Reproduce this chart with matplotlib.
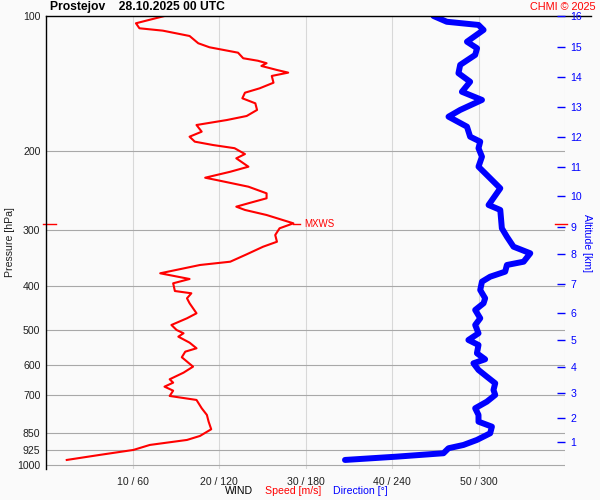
import matplotlib
matplotlib.use('Agg')
import matplotlib.pyplot as plt
from matplotlib.ticker import NullLocator, FixedLocator, FixedFormatter

plt.rcParams['font.family'] = ['Liberation Sans', 'DejaVu Sans']

# wind speed profile [hPa, m/s]
speed_p = [100.0, 103.8, 106.5, 107.8, 110.8, 115.0, 117.4, 120.7, 124.2, 125.8,
           127.4, 129.2, 131.9, 133.7, 136.0, 140.8, 144.9, 148.2, 152.5, 156.5,
           161.9, 167.0, 170.5, 174.9, 181.0, 185.7, 190.5, 193.8, 197.0, 203.0,
           207.5, 216.6, 222.3, 229.2, 231.9, 240.0, 248.3, 254.7, 261.3, 265.9,
           270.4, 277.5, 289.6, 297.1, 307.5, 318.3, 326.5, 339.5, 352.6, 358.6,
           374.2, 385.3, 393.9, 409.8, 414.6, 425.4, 436.4, 459.4, 471.3, 487.8,
           500.5, 509.0, 517.9, 534.1, 549.7, 559.3, 575.6, 604.0, 622.9, 644.4,
           655.7, 669.3, 683.2, 702.0, 716.5, 747.7, 773.8, 800.9, 832.7, 861.8,
           879.6, 902.5, 925.9, 949.9, 974.7]
speed = [13.7, 10.4, 10.8, 13.5, 16.6, 17.6, 18.9, 22.2, 22.8, 24.5,
         25.5, 24.9, 26.7, 28.0, 26.1, 26.3, 24.7, 23.0, 22.7, 24.2,
         24.4, 23.2, 20.9, 17.4, 18.0, 16.6, 17.2, 19.3, 21.8, 23.0,
         22.0, 23.4, 21.3, 18.4, 19.7, 23.4, 25.5, 25.5, 23.4, 22.0,
         23.0, 25.5, 28.6, 27.0, 26.5, 26.7, 25.1, 23.2, 21.3, 17.8,
         13.2, 16.6, 14.7, 14.9, 16.8, 16.3, 16.6, 17.4, 16.3, 14.5,
         15.1, 15.9, 15.3, 16.6, 17.4, 16.1, 15.7, 17.0, 15.9, 14.3,
         14.7, 13.7, 14.7, 14.3, 17.4, 18.0, 18.6, 18.8, 19.1, 17.8,
         16.3, 12.0, 10.1, 6.2, 2.4]

# wind direction profile [hPa, deg]
dir_p = [100.0, 103.0, 104.7, 107.4, 114.1, 118.0, 122.1, 128.5, 134.1, 140.1,
         147.5, 153.8, 161.9, 167.6, 176.4, 185.7, 190.5, 197.0, 205.8, 216.6,
         226.0, 242.0, 263.6, 270.4, 297.1, 310.2, 326.5, 337.7, 352.6, 358.6,
         371.1, 380.8, 390.6, 407.7, 425.4, 436.4, 451.6, 471.3, 487.8, 509.0,
         526.8, 540.5, 564.0, 581.6, 593.7, 614.4, 635.9, 657.8, 680.8, 698.4,
         722.8, 747.7, 773.8, 800.9, 821.7, 850.1, 879.6, 902.5, 917.9, 941.7,
         958.3, 974.7]
direction = [268.8, 278, 300, 303.5, 292, 299, 297.7, 287.3, 286.1, 294.2,
             288.5, 302.4, 287.3, 279.2, 292, 294.2, 301.2, 300, 302.4, 300,
             305.8, 315.1, 307, 315.1, 316.2, 319.7, 324.3, 335.9, 331.3, 319.7,
             318.5, 308.1, 302.4, 301.2, 304.6, 303.5, 297.7, 301.2, 297.7, 300,
             293, 300, 298.9, 304.6, 296.5, 300, 305.8, 311.6, 310.4, 311.6,
             305.8, 297.7, 300, 300, 309.3, 308.1, 298.9, 289.6, 279.2, 275.7,
             243.3, 207.4]

p_levels = [100, 200, 300, 400, 500, 600, 700, 850, 925, 1000]
speed_ticks = [10, 20, 30, 40, 50]
alt_km = list(range(1, 17))
alt_p = [890, 784.8, 692.4, 604, 526.8, 458, 396, 339.5, 294.7, 251.7,
         217.3, 186.3, 159.2, 136.5, 117.4, 100]
mxws_p = 291
mxws_speed = 28.6

bg = '#fafafa'
fs = 7.6

fig = plt.figure(figsize=(6, 5), dpi=100, facecolor=bg)
ax = fig.add_axes([46 / 600, 1 - 469 / 500, 519 / 600, 453 / 500])
ax.set_facecolor(bg)
ax.set_yscale('log')
ax.set_ylim(1021, 100)
ax.set_xlim(0, 60)

for s in speed_ticks:
    ax.axvline(s, color='#d8d8d8', lw=0.8, zorder=1)
ax.axvline(60, color='#d8d8d8', lw=0.8, zorder=1)
for p in p_levels[1:]:
    ax.axhline(p, color='#a8a8a8', lw=0.8, zorder=1)

ax.yaxis.set_major_locator(FixedLocator(p_levels))
ax.yaxis.set_major_formatter(FixedFormatter([str(p) for p in p_levels]))
ax.yaxis.set_minor_locator(NullLocator())
ax.tick_params(axis='y', length=0, pad=4, labelsize=fs, labelcolor='#202020')
ax.set_xticks(speed_ticks)
ax.set_xticklabels([f'{s} / {s * 6}' for s in speed_ticks])
ax.tick_params(axis='x', length=0, pad=6, labelsize=fs, labelcolor='#202020')

for side in ['right', 'bottom', 'top']:
    ax.spines[side].set_visible(False)
ax.spines['left'].set_color('black')
ax.spines['left'].set_linewidth(1.0)
ax.axhline(100, xmin=0, xmax=(591 - 46) / 519, color='black', lw=1.0,
           clip_on=False, zorder=5)

ax.plot(speed, speed_p, color='red', lw=1.5, zorder=3)
ax.plot([d / 6 for d in direction], dir_p, color='blue', lw=4.3,
        solid_capstyle='round', solid_joinstyle='round', zorder=3)

# max wind marker
ax.axhline(mxws_p, xmin=-0.006, xmax=0.02, color='red', lw=1.0, clip_on=False)
ax.axhline(mxws_p, xmin=0.98, xmax=1.004, color='red', lw=1.0, clip_on=False)
ax.plot([mxws_speed, mxws_speed + 0.8], [mxws_p, mxws_p], color='red', lw=1.0)
ax.text(mxws_speed + 1.2, mxws_p, 'MXWS', color='red', fontsize=7,
        va='center', ha='left')

ax.set_ylabel('Pressure [hPa]', fontsize=fs, color='#202020', labelpad=2)

ax2 = ax.twinx()
ax2.set_yscale('log')
ax2.set_ylim(1021, 100)
ax2.yaxis.set_major_locator(FixedLocator(alt_p))
ax2.yaxis.set_major_formatter(FixedFormatter([str(a) for a in alt_km]))
ax2.yaxis.set_minor_locator(NullLocator())
ax2.tick_params(axis='y', direction='in', length=6, width=1.0, color='blue',
                labelcolor='blue', labelsize=fs, pad=4)
for side in ['right', 'left', 'bottom', 'top']:
    ax2.spines[side].set_visible(False)
ax2.set_ylabel('Altitude [km]', fontsize=fs, color='blue', rotation=270,
               labelpad=7)

fig.text(50 / 600, 1 - 7 / 500, 'Prostejov    28.10.2025 00 UTC', fontsize=8.7,
         fontweight='bold', ha='left', va='center')
fig.text(596 / 600, 1 - 7 / 500, 'CHMI \u00a9 2025', fontsize=7.8, color='red',
         ha='right', va='center')
fig.text(239.5 / 600, 1 - 491 / 500, 'WIND', fontsize=fs, ha='center', va='center')
fig.text(293 / 600, 1 - 491 / 500, 'Speed [m/s]', fontsize=fs, color='red',
         ha='center', va='center')
fig.text(360 / 600, 1 - 491 / 500, 'Direction [\u00b0]', fontsize=fs, color='blue',
         ha='center', va='center')

fig.savefig('out.png', dpi=100, facecolor=bg)
